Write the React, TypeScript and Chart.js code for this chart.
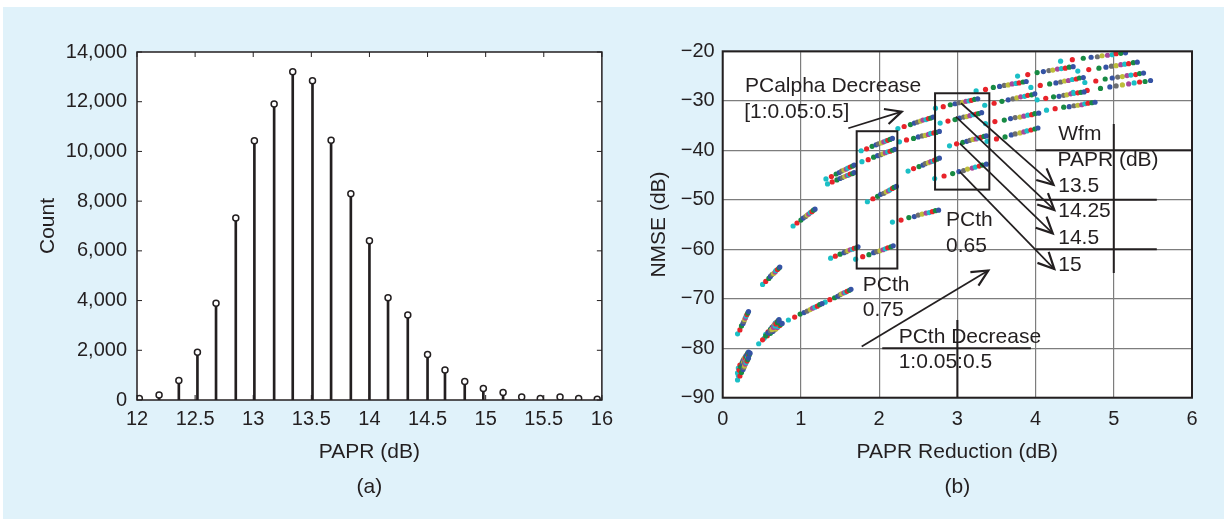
import React, { useEffect, useRef } from 'react';
import { Chart, registerables } from 'chart.js';
Chart.register(...registerables);

const INK = '#231f20';
const BLUE = '#e0f2fa';
const FONT = '"Liberation Sans", Arial, Helvetica, sans-serif';

// ---------- (a) PAPR histogram ----------
const paprBins = [12.02, 12.19, 12.36, 12.52, 12.68, 12.85, 13.01, 13.18, 13.34, 13.51, 13.67, 13.84, 14.0, 14.16, 14.33, 14.5, 14.65, 14.82, 14.98, 15.15, 15.31, 15.47, 15.64, 15.8, 15.96];
const paprCounts = [60, 200, 780, 1920, 3890, 7320, 10430, 11910, 13210, 12840, 10450, 8300, 6410, 4110, 3420, 1830, 1210, 740, 460, 300, 120, 60, 120, 60, 30];
const histXTicks = [12, 12.5, 13, 13.5, 14, 14.5, 15, 15.5, 16];
const histYTicks = [0, 2000, 4000, 6000, 8000, 10000, 12000, 14000];

// ---------- (b) NMSE vs PAPR reduction ----------
const nmseXTicks = [0, 1, 2, 3, 4, 5, 6];
const nmseYTicks = [-90, -80, -70, -60, -50, -40, -30, -20];

type P = [number, number];
const segA1: P[] = [[0.19,-86.4],[0.22,-85.6],[0.24,-84.9],[0.26,-84.3],[0.27,-83.9],[0.28,-83.6],[0.29,-83.2],[0.30,-82.9],[0.31,-82.6],[0.32,-82.3],[0.33,-82.0]];
const segA2: P[] = [[0.20,-85.5],[0.23,-84.7],[0.25,-83.9],[0.27,-83.4],[0.28,-83.0],[0.30,-82.6],[0.31,-82.3],[0.32,-81.9],[0.33,-81.6],[0.34,-81.3],[0.35,-81.0]];
const segA3: P[] = [[0.19,-85.0],[0.21,-84.4],[0.23,-83.8],[0.25,-83.4],[0.26,-83.0],[0.27,-82.8],[0.28,-82.5],[0.29,-82.2],[0.29,-82.0],[0.30,-81.7],[0.31,-81.5]];
const segA4: P[] = [[0.20,-84.0],[0.22,-83.4],[0.25,-82.9],[0.26,-82.5],[0.27,-82.2],[0.28,-82.0],[0.29,-81.7],[0.30,-81.5],[0.31,-81.3],[0.32,-81.0],[0.33,-80.8]];
const segB: P[] = [[0.19,-77.1],[0.22,-76.3],[0.24,-75.5],[0.26,-75.0],[0.27,-74.6],[0.28,-74.2],[0.29,-73.9],[0.30,-73.5],[0.31,-73.2],[0.32,-72.9],[0.33,-72.6]];
const segC: P[] = [[0.51,-67.1],[0.55,-66.5],[0.59,-65.9],[0.61,-65.5],[0.63,-65.1],[0.65,-64.9],[0.67,-64.6],[0.68,-64.3],[0.70,-64.1],[0.72,-63.8],[0.73,-63.6]];
const segD1: P[] = [[0.46,-79.1],[0.51,-78.3],[0.55,-77.5],[0.58,-76.9],[0.61,-76.5],[0.63,-76.2],[0.65,-75.8],[0.67,-75.5],[0.68,-75.1],[0.70,-74.8],[0.72,-74.5]];
const segD2: P[] = [[0.53,-78.0],[0.57,-77.5],[0.61,-77.0],[0.64,-76.6],[0.66,-76.3],[0.68,-76.1],[0.70,-75.8],[0.71,-75.6],[0.73,-75.4],[0.74,-75.2],[0.76,-75.0]];
const segD3: P[] = [[0.55,-77.2],[0.58,-76.7],[0.61,-76.2],[0.63,-75.8],[0.65,-75.5],[0.66,-75.3],[0.67,-75.0],[0.68,-74.8],[0.70,-74.6],[0.71,-74.4],[0.72,-74.2]];
const segE1: P[] = [[0.84,-74.3],[0.92,-73.7],[0.99,-73.1],[1.04,-72.8],[1.08,-72.5],[1.12,-72.2],[1.15,-71.9],[1.18,-71.7],[1.21,-71.5],[1.24,-71.2],[1.27,-71.0]];
const segE2: P[] = [[1.31,-70.7],[1.37,-70.2],[1.43,-69.8],[1.47,-69.5],[1.50,-69.2],[1.52,-69.0],[1.55,-68.8],[1.57,-68.7],[1.59,-68.5],[1.62,-68.3],[1.64,-68.1]];
const segF: P[] = [[0.90,-55.3],[0.95,-54.7],[1.00,-54.1],[1.03,-53.7],[1.06,-53.4],[1.08,-53.1],[1.10,-52.9],[1.12,-52.6],[1.14,-52.4],[1.16,-52.1],[1.18,-51.9]];
const segG1: P[] = [[1.32,-45.8],[1.39,-45.3],[1.45,-44.8],[1.49,-44.5],[1.52,-44.2],[1.55,-44.0],[1.58,-43.8],[1.60,-43.6],[1.63,-43.4],[1.66,-43.2],[1.68,-43.0]];
const segG2: P[] = [[1.34,-46.8],[1.40,-46.4],[1.46,-46.0],[1.50,-45.7],[1.53,-45.5],[1.56,-45.3],[1.59,-45.1],[1.61,-45.0],[1.63,-44.8],[1.66,-44.7],[1.68,-44.5]];
const segH: P[] = [[1.38,-61.8],[1.44,-61.4],[1.50,-61.0],[1.55,-60.7],[1.58,-60.5],[1.60,-60.3],[1.63,-60.1],[1.66,-60.0],[1.68,-59.8],[1.71,-59.7],[1.73,-59.5]];
const segI1: P[] = [[1.77,-40.1],[1.84,-39.7],[1.91,-39.2],[1.96,-38.9],[1.99,-38.7],[2.03,-38.5],[2.06,-38.3],[2.09,-38.1],[2.11,-38.0],[2.14,-37.8],[2.17,-37.6]];
const segI2: P[] = [[1.78,-42.3],[1.86,-41.9],[1.93,-41.4],[1.98,-41.1],[2.02,-40.9],[2.05,-40.7],[2.08,-40.5],[2.11,-40.3],[2.14,-40.2],[2.17,-40.0],[2.20,-39.8]];
const segI3: P[] = [[1.85,-50.4],[1.92,-49.8],[1.98,-49.3],[2.02,-48.9],[2.06,-48.7],[2.09,-48.4],[2.12,-48.2],[2.14,-48.0],[2.17,-47.7],[2.19,-47.5],[2.22,-47.3]];
const segI4: P[] = [[1.70,-62.0],[1.79,-61.5],[1.87,-61.1],[1.93,-60.7],[1.97,-60.5],[2.01,-60.3],[2.05,-60.1],[2.08,-59.9],[2.11,-59.7],[2.15,-59.5],[2.18,-59.3]];
const segJ1: P[] = [[2.24,-35.6],[2.32,-35.2],[2.40,-34.8],[2.45,-34.5],[2.49,-34.3],[2.53,-34.1],[2.56,-33.9],[2.60,-33.8],[2.63,-33.6],[2.66,-33.5],[2.69,-33.3]];
const segJ2: P[] = [[2.26,-38.3],[2.35,-37.9],[2.44,-37.6],[2.50,-37.3],[2.55,-37.1],[2.59,-37.0],[2.63,-36.8],[2.66,-36.6],[2.70,-36.5],[2.73,-36.4],[2.77,-36.2]];
const segJ3: P[] = [[2.37,-44.2],[2.44,-43.7],[2.51,-43.3],[2.56,-43.0],[2.59,-42.7],[2.63,-42.5],[2.66,-42.3],[2.69,-42.2],[2.71,-42.0],[2.74,-41.8],[2.77,-41.6]];
const segJ4: P[] = [[2.17,-54.5],[2.28,-54.1],[2.38,-53.6],[2.45,-53.4],[2.50,-53.1],[2.55,-52.9],[2.60,-52.7],[2.64,-52.6],[2.68,-52.4],[2.72,-52.2],[2.76,-52.1]];
const segK1: P[] = [[2.72,-31.5],[2.82,-31.2],[2.91,-30.8],[2.97,-30.6],[3.02,-30.4],[3.07,-30.3],[3.11,-30.1],[3.15,-30.0],[3.18,-29.9],[3.22,-29.7],[3.26,-29.6]];
const segK2: P[] = [[2.78,-34.5],[2.88,-34.1],[2.97,-33.8],[3.03,-33.5],[3.08,-33.3],[3.12,-33.2],[3.16,-33.0],[3.20,-32.8],[3.24,-32.7],[3.27,-32.6],[3.31,-32.4]];
const segK3: P[] = [[2.90,-39.1],[2.99,-38.7],[3.07,-38.4],[3.12,-38.2],[3.16,-38.0],[3.20,-37.8],[3.24,-37.7],[3.27,-37.5],[3.30,-37.4],[3.34,-37.2],[3.37,-37.1]];
const segK4: P[] = [[2.71,-45.7],[2.83,-45.2],[2.94,-44.7],[3.02,-44.3],[3.08,-44.1],[3.13,-43.8],[3.19,-43.6],[3.23,-43.4],[3.28,-43.2],[3.32,-43.0],[3.37,-42.8]];
const segL1: P[] = [[3.24,-28.0],[3.36,-27.7],[3.46,-27.3],[3.54,-27.1],[3.60,-26.9],[3.65,-26.8],[3.70,-26.6],[3.75,-26.5],[3.79,-26.4],[3.84,-26.2],[3.88,-26.1]];
const segL2: P[] = [[3.35,-30.9],[3.47,-30.5],[3.57,-30.1],[3.65,-29.8],[3.71,-29.6],[3.76,-29.4],[3.81,-29.2],[3.86,-29.1],[3.90,-28.9],[3.95,-28.8],[3.99,-28.6]];
const segL3: P[] = [[3.36,-34.6],[3.48,-34.2],[3.60,-33.9],[3.68,-33.6],[3.74,-33.4],[3.80,-33.3],[3.85,-33.1],[3.90,-32.9],[3.95,-32.8],[3.99,-32.6],[4.04,-32.5]];
const segL4: P[] = [[3.38,-38.2],[3.50,-37.7],[3.61,-37.3],[3.69,-36.9],[3.74,-36.7],[3.80,-36.5],[3.85,-36.3],[3.89,-36.1],[3.94,-35.9],[3.99,-35.7],[4.03,-35.5]];
const segM1: P[] = [[3.77,-25.0],[3.90,-24.7],[4.02,-24.3],[4.10,-24.1],[4.17,-23.9],[4.22,-23.8],[4.28,-23.6],[4.33,-23.5],[4.38,-23.4],[4.43,-23.2],[4.48,-23.1]];
const segM2: P[] = [[3.94,-27.3],[4.06,-26.9],[4.18,-26.6],[4.26,-26.4],[4.32,-26.2],[4.37,-26.0],[4.42,-25.9],[4.47,-25.7],[4.52,-25.6],[4.56,-25.4],[4.61,-25.3]];
const segM3: P[] = [[4.02,-29.8],[4.13,-29.5],[4.23,-29.2],[4.30,-29.1],[4.36,-28.9],[4.40,-28.8],[4.45,-28.6],[4.49,-28.5],[4.54,-28.4],[4.58,-28.3],[4.62,-28.2]];
const segM4: P[] = [[4.14,-31.9],[4.25,-31.6],[4.36,-31.3],[4.43,-31.2],[4.49,-31.0],[4.54,-30.9],[4.59,-30.8],[4.63,-30.6],[4.67,-30.5],[4.72,-30.4],[4.76,-30.3]];
const segN1: P[] = [[4.32,-22.0],[4.47,-21.7],[4.61,-21.4],[4.71,-21.2],[4.79,-21.1],[4.85,-20.9],[4.92,-20.8],[4.98,-20.7],[5.03,-20.5],[5.09,-20.4],[5.15,-20.3]];
const segN2: P[] = [[4.54,-24.0],[4.68,-23.7],[4.81,-23.4],[4.90,-23.2],[4.97,-23.0],[5.03,-22.9],[5.09,-22.7],[5.14,-22.6],[5.19,-22.5],[5.25,-22.3],[5.30,-22.2]];
const segN3: P[] = [[4.63,-26.3],[4.77,-26.0],[4.89,-25.6],[4.98,-25.4],[5.05,-25.2],[5.11,-25.1],[5.17,-24.9],[5.22,-24.8],[5.28,-24.7],[5.33,-24.5],[5.38,-24.4]];
const segN4: P[] = [[4.48,-28.3],[4.66,-27.9],[4.83,-27.5],[4.95,-27.2],[5.03,-27.0],[5.11,-26.8],[5.19,-26.6],[5.26,-26.4],[5.33,-26.2],[5.40,-26.1],[5.47,-25.9]];

const nmseSegments: P[][] = [
  segA1, segA2, segA3, segA4, segB, segC, segD1, segD2, segD3, segE1, segE2, segF,
  segG1, segG2, segH, segI1, segI2, segI3, segI4, segJ1, segJ2, segJ3, segJ4,
  segK1, segK2, segK3, segK4, segL1, segL2, segL3, segL4, segM1, segM2, segM3, segM4,
  segN1, segN2, segN3, segN4,
];

// colour per PCalpha step (style)
const dotColors = ['#1bbfc6', '#e8232a', '#178a43', '#3553a4', '#6d6e70', '#bdbd3a', '#a7479b', '#1bbfc6', '#e8232a', '#178a43', '#3553a4'];

// annotations (data coordinates of panel b)
const annotTexts = [
  { t: 'PCalpha Decrease', x: 0.285, y: -27.15 },
  { t: '[1:0.05:0.5]', x: 0.275, y: -32.3 },
  { t: 'Wfm', x: 4.29, y: -36.7 },
  { t: 'PAPR (dB)', x: 4.28, y: -41.95 },
  { t: '13.5', x: 4.29, y: -47.2 },
  { t: '14.25', x: 4.29, y: -52.4 },
  { t: '14.5', x: 4.29, y: -57.8 },
  { t: '15', x: 4.29, y: -63.2 },
  { t: 'PCth', x: 2.855, y: -54.2 },
  { t: '0.65', x: 2.855, y: -59.3 },
  { t: 'PCth', x: 1.79, y: -67.2 },
  { t: '0.75', x: 1.79, y: -72.25 },
  { t: 'PCth Decrease', x: 2.25, y: -77.8 },
  { t: '1:0.05:0.5', x: 2.25, y: -82.9 },
];
const annotBoxes = [[1.713, -36.15, 2.233, -63.9], [2.715, -28.48, 3.409, -47.95]];
const annotLines = [[4.0, -40, 6, -40], [4.0, -50, 5.55, -50], [4.0, -60, 5.55, -60], [5, -34.7, 5, -64.8], [2.04, -80, 3.94, -80], [3, -74.3, 3, -90]];
const annotArrows = [
  [1.606, -35.55, 2.289, -32.2],
  [3.047, -30.5, 4.23, -47.0],
  [2.98, -33.2, 4.24, -52.05],
  [3.03, -38.6, 4.22, -56.8],
  [3.03, -44.3, 4.24, -64.0],
  [1.777, -79.67, 3.396, -64.3],
];

const bgPlugin = {
  id: 'plotBg',
  beforeDraw(chart: any) {
    const { ctx, chartArea: a } = chart;
    ctx.save();
    ctx.fillStyle = '#ffffff';
    ctx.fillRect(a.left, a.top, a.right - a.left, a.bottom - a.top);
    ctx.restore();
  },
};

function framePlugin(xTicks: number[], yTicks: number[], tickLen: number, width: number) {
  return {
    id: 'frame',
    afterDraw(chart: any) {
      const { ctx, chartArea: a, scales } = chart;
      ctx.save();
      ctx.strokeStyle = INK;
      if (tickLen > 0) {
        ctx.lineWidth = 1;
        ctx.beginPath();
        for (const v of xTicks) {
          const p = scales.x.getPixelForValue(v);
          ctx.moveTo(p, a.bottom); ctx.lineTo(p, a.bottom - tickLen);
          ctx.moveTo(p, a.top); ctx.lineTo(p, a.top + tickLen);
        }
        for (const v of yTicks) {
          const p = scales.y.getPixelForValue(v);
          ctx.moveTo(a.left, p); ctx.lineTo(a.left + tickLen, p);
          ctx.moveTo(a.right, p); ctx.lineTo(a.right - tickLen, p);
        }
        ctx.stroke();
      }
      ctx.lineWidth = width;
      ctx.strokeRect(a.left, a.top, a.right - a.left, a.bottom - a.top);
      ctx.restore();
    },
  };
}

function drawArrow(ctx: CanvasRenderingContext2D, x0: number, y0: number, x1: number, y1: number) {
  ctx.beginPath(); ctx.moveTo(x0, y0); ctx.lineTo(x1, y1); ctx.stroke();
  const a = Math.atan2(y1 - y0, x1 - x0);
  const head = 18, spread = 0.45;
  ctx.save();
  ctx.lineWidth = 2.2;
  ctx.beginPath();
  ctx.moveTo(x1 - head * Math.cos(a - spread), y1 - head * Math.sin(a - spread));
  ctx.lineTo(x1, y1);
  ctx.lineTo(x1 - head * Math.cos(a + spread), y1 - head * Math.sin(a + spread));
  ctx.stroke();
  ctx.restore();
}

const annotPlugin = {
  id: 'annot',
  afterDatasetsDraw(chart: any) {
    const { ctx, scales } = chart;
    const px = (v: number) => scales.x.getPixelForValue(v);
    const py = (v: number) => scales.y.getPixelForValue(v);
    ctx.save();
    ctx.strokeStyle = INK;
    ctx.lineWidth = 2;
    for (const b of annotBoxes) ctx.strokeRect(px(b[0]), py(b[1]), px(b[2]) - px(b[0]), py(b[3]) - py(b[1]));
    ctx.beginPath();
    for (const l of annotLines) { ctx.moveTo(px(l[0]), py(l[1])); ctx.lineTo(px(l[2]), py(l[3])); }
    ctx.stroke();
    ctx.lineWidth = 1.7;
    for (const r of annotArrows) drawArrow(ctx, px(r[0]), py(r[1]), px(r[2]), py(r[3]));
    ctx.fillStyle = INK;
    ctx.font = `21px ${FONT}`;
    ctx.textBaseline = 'middle';
    ctx.textAlign = 'left';
    for (const t of annotTexts) ctx.fillText(t.t, px(t.x), py(t.y));
    ctx.restore();
  },
};

const tickFont = { family: FONT, size: 20 };
const titleFont = { family: FONT, size: 21, lineHeight: 1.2 };
const xTitleFont = { family: FONT, size: 21, lineHeight: 35 / 21 };

export default function App() {
  const leftRef = useRef<HTMLCanvasElement>(null);
  const rightRef = useRef<HTMLCanvasElement>(null);

  useEffect(() => {
    const histPts = paprBins.map((x, i) => ({ x, y: paprCounts[i] }));
    const c1 = new Chart(leftRef.current as HTMLCanvasElement, {
      type: 'scatter',
      data: {
        datasets: [
          { type: 'bar', data: histPts, backgroundColor: INK, barThickness: 2, borderWidth: 0, order: 2 } as any,
          { type: 'scatter', data: histPts, pointRadius: 3, pointBorderWidth: 1.5, pointBorderColor: INK, pointBackgroundColor: '#ffffff', order: 1 } as any,
        ],
      },
      options: {
        responsive: false,
        animation: false,
        events: [],
        layout: { padding: { left: 0, top: 52, right: 15, bottom: 0 } },
        plugins: { legend: { display: false }, tooltip: { enabled: false } },
        scales: {
          x: {
            type: 'linear', min: 12, max: 16, offset: false,
            afterBuildTicks: (s: any) => { s.ticks = histXTicks.map((v) => ({ value: v })); },
            afterFit: (s: any) => { s.height = 119; },
            grid: { display: false, drawTicks: false },
            border: { display: false },
            ticks: { font: tickFont, color: INK, padding: 7, autoSkip: false, maxRotation: 0, callback: (v: any) => String(v) },
            title: { display: true, text: ['PAPR (dB)', '(a)'], font: xTitleFont, color: INK, padding: { top: 0, bottom: 14.5 } },
          },
          y: {
            type: 'linear', min: 0, max: 14000,
            afterBuildTicks: (s: any) => { s.ticks = histYTicks.map((v) => ({ value: v })); },
            afterFit: (s: any) => { s.width = 137; },
            grid: { display: false, drawTicks: false },
            border: { display: false },
            ticks: { font: tickFont, color: INK, padding: 10, autoSkip: false, callback: (v: any) => Number(v).toLocaleString('en-US') },
            title: { display: true, text: 'Count', font: titleFont, color: INK, padding: { top: 35.8, bottom: 0 } },
          },
        },
      } as any,
      plugins: [bgPlugin, framePlugin(histXTicks, histYTicks, 5, 1.5)],
    });

    const c2 = new Chart(rightRef.current as HTMLCanvasElement, {
      type: 'scatter',
      data: {
        datasets: nmseSegments.map((seg) => ({
          data: seg.map(([x, y]) => ({ x, y })),
          pointRadius: 2.6,
          pointBorderWidth: 0,
          pointBackgroundColor: dotColors,
          showLine: false,
        })),
      },
      options: {
        responsive: false,
        animation: false,
        events: [],
        layout: { padding: { left: 0, top: 51.3, right: 32, bottom: 0 } },
        plugins: { legend: { display: false }, tooltip: { enabled: false } },
        scales: {
          x: {
            type: 'linear', min: 0, max: 6, offset: false,
            afterBuildTicks: (s: any) => { s.ticks = nmseXTicks.map((v) => ({ value: v })); },
            afterFit: (s: any) => { s.height = 121.3; },
            grid: { color: '#7d7d7d', lineWidth: 1.2, drawTicks: false },
            border: { display: false },
            ticks: { font: tickFont, color: INK, padding: 9.5, autoSkip: false, maxRotation: 0, callback: (v: any) => String(v) },
            title: { display: true, text: ['PAPR Reduction (dB)', '(b)'], font: xTitleFont, color: INK, padding: { top: 0, bottom: 14.5 } },
          },
          y: {
            type: 'linear', min: -90, max: -20,
            afterBuildTicks: (s: any) => { s.ticks = nmseYTicks.map((v) => ({ value: v })); },
            afterFit: (s: any) => { s.width = 102.7; },
            grid: { color: '#7d7d7d', lineWidth: 1.2, drawTicks: false },
            border: { display: false },
            ticks: { font: tickFont, color: INK, padding: 8, autoSkip: false, callback: (v: any) => (Number(v) < 0 ? '\u2212' + Math.abs(Number(v)) : String(v)) },
            title: { display: true, text: 'NMSE (dB)', font: titleFont, color: INK, padding: { top: 26.4, bottom: 0 } },
          },
        },
      } as any,
      plugins: [bgPlugin, annotPlugin, framePlugin([], [], 0, 2)],
    });

    return () => { c1.destroy(); c2.destroy(); };
  }, []);

  return (
    <div style={{ position: 'absolute', left: 0, top: 0, width: 1224, height: 519, background: '#ffffff', overflow: 'hidden' }}>
      <div style={{ position: 'absolute', left: 3, top: 7, width: 1221, height: 512, background: BLUE }} />
      <canvas ref={leftRef} width={620} height={519} style={{ position: 'absolute', left: 0, top: 0, width: 620, height: 519, display: 'block' }} />
      <canvas ref={rightRef} width={604} height={519} style={{ position: 'absolute', left: 620, top: 0, width: 604, height: 519, display: 'block' }} />
    </div>
  );
}
